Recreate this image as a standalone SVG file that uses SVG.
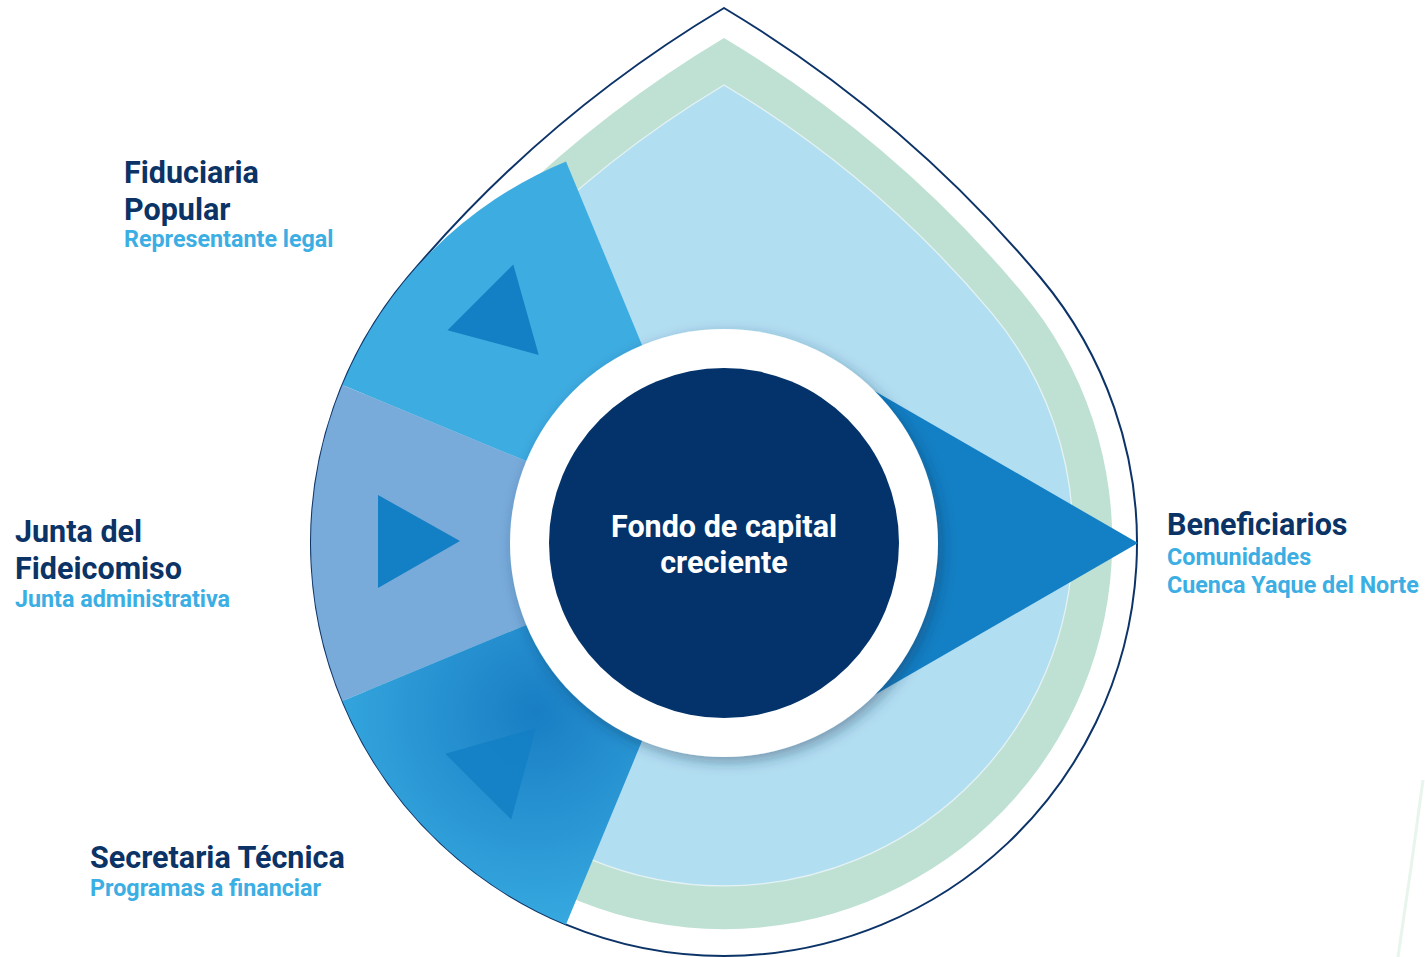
<svg xmlns="http://www.w3.org/2000/svg" width="1425" height="957" viewBox="0 0 1425 957">
<defs>
<style>
.t{font-family:Roboto,"Liberation Sans",sans-serif;font-weight:700;}
.h{font-size:30.5px;fill:#0B3366;}
.s{font-size:23.3px;fill:#3BAEE3;}
.c{font-size:30.5px;fill:#FFFFFF;text-anchor:middle;}
.arrow{fill:#137FC4;}
</style>
<path id="drop" d="M0,-535 A1251,1251 0 0 0 -316.4,-265.5 A413,413 0 1 0 316.4,-265.5 A1251,1251 0 0 0 0,-535 Z"/>
<radialGradient id="lb" gradientUnits="userSpaceOnUse" cx="724" cy="543" r="360">
<stop offset="0" stop-color="#A6CBE7"/>
<stop offset="1" stop-color="#B2DEF2"/>
</radialGradient>
<radialGradient id="sec" gradientUnits="userSpaceOnUse" cx="535" cy="712" r="240">
<stop offset="0" stop-color="#197EC4"/>
<stop offset="1" stop-color="#3AAEE3"/>
</radialGradient>
<filter id="sh" x="-30%" y="-30%" width="160%" height="160%">
<feDropShadow dx="4" dy="5" stdDeviation="7" flood-color="#1A3050" flood-opacity="0.4"/>
</filter>
</defs>
<rect width="1425" height="957" fill="#FFFFFF"/>
<path d="M1423,780 Q1411,870 1398,957" fill="none" stroke="#E8F5EC" stroke-width="3"/>
<g id="drop-outline">
<use href="#drop" transform="translate(724,543)" fill="#FFFFFF" stroke="#0D3468" stroke-width="2" vector-effect="non-scaling-stroke"/>
</g>
<g id="green-band">
<use href="#drop" transform="translate(724,541) scale(0.94)" fill="#BFE1D3"/>
</g>
<g id="light-blue">
<use href="#drop" transform="translate(724,537) scale(0.845)" fill="url(#lb)" stroke="#E4F2F4" stroke-width="1.5"/>
</g>
<g id="connectors"></g>
<g id="node-beneficiarios">
<path d="M1138,543 L800,348 L800,738 Z" fill="#137FC4"/>
<text class="t h" x="1167" y="535">Beneficiarios</text>
<text class="t s" x="1167" y="565">Comunidades</text>
<text class="t s" x="1167" y="593">Cuenca Yaque del Norte</text>
</g>
<g id="node-fiduciaria">
<path d="M724,543 L342.4,385 A413,413 0 0 1 566,161.4 Z" fill="#3DACE1"/>
<path class="arrow" d="M378,495 L378,588 L460,541 Z" transform="rotate(45 724 543)"/>
<text class="t h" x="124" y="183">Fiduciaria</text>
<text class="t h" x="124" y="220">Popular</text>
<text class="t s" x="124" y="247">Representante legal</text>
</g>
<g id="node-junta">
<path d="M724,543 L342.4,701 A413,413 0 0 1 342.4,385 Z" fill="#78ABDA"/>
<path class="arrow" d="M378,495 L378,588 L460,541 Z"/>
<text class="t h" x="15" y="542">Junta del</text>
<text class="t h" x="15" y="579">Fideicomiso</text>
<text class="t s" x="15" y="607">Junta administrativa</text>
</g>
<g id="node-secretaria">
<path d="M724,543 L566,924.6 A413,413 0 0 1 342.4,701 Z" fill="url(#sec)"/>
<path class="arrow" d="M378,495 L378,588 L460,541 Z" transform="rotate(-45 724 543)" opacity="0.85"/>
<text class="t h" x="90" y="868">Secretaria Técnica</text>
<text class="t s" x="90" y="896">Programas a financiar</text>
</g>
<g id="node-fondo">
<circle cx="724" cy="543" r="214" fill="#FFFFFF" filter="url(#sh)"/>
<circle cx="724" cy="543" r="175" fill="#03336A"/>
<text class="t c" x="724" y="537">Fondo de capital</text>
<text class="t c" x="724" y="573">creciente</text>
</g>
</svg>
